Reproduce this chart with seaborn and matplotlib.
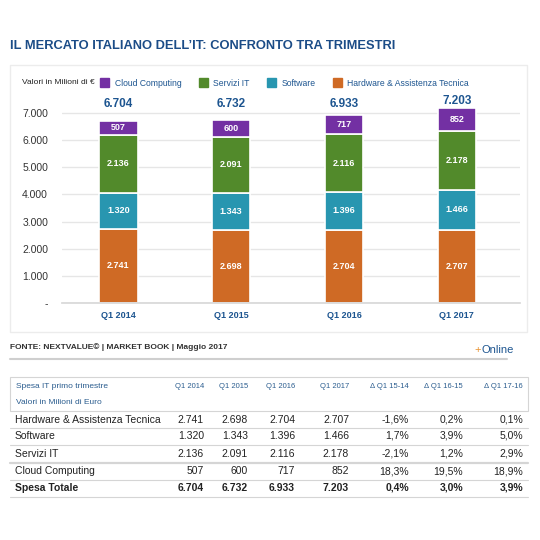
import matplotlib
matplotlib.use("Agg")
import matplotlib.pyplot as plt
import matplotlib.patches as mpatches
from matplotlib.lines import Line2D
import seaborn as sns
import pandas as pd
import numpy as np

# -----------------------------
# Data
# -----------------------------
quarters = ["Q1 2014", "Q1 2015", "Q1 2016", "Q1 2017"]
hardware = [2741, 2698, 2704, 2707]
software = [1320, 1343, 1396, 1466]
servizi = [2136, 2091, 2116, 2178]
cloud = [507, 600, 717, 852]
totals = [6704, 6732, 6933, 7203]

series_names = ["Hardware & Assistenza Tecnica", "Software", "Servizi IT", "Cloud Computing"]
series_colors = ["#cf6a25", "#2896b0", "#528a2b", "#7330a3"]

yticks = [0, 1000, 2000, 3000, 4000, 5000, 6000, 7000]
ytick_labels = ["-", "1.000", "2.000", "3.000", "4.000", "5.000", "6.000", "7.000"]

delta_cols = ["\u0394 Q1 15-14", "\u0394 Q1 16-15", "\u0394 Q1 17-16"]
delta_hardware = [-1.6, 0.2, 0.1]
delta_software = [1.7, 3.9, 5.0]
delta_servizi = [-2.1, 1.2, 2.9]
delta_cloud = [18.3, 19.5, 18.9]
delta_totale = [0.4, 3.0, 3.9]

BLUE = "#1d5590"
TITLE_BLUE = "#1b4c87"


def fmt_num(v):
    return f"{v:,}".replace(",", ".")


def fmt_pct(p):
    return f"{p:.1f}%".replace(".", ",")


df = pd.DataFrame({
    "quarter": quarters,
    "Hardware & Assistenza Tecnica": hardware,
    "Software": software,
    "Servizi IT": servizi,
    "Cloud Computing": cloud,
})

# -----------------------------
# Style
# -----------------------------
sns.set_theme(style="white")
plt.rcParams["font.family"] = ["Liberation Sans", "DejaVu Sans"]

W = 540
fig = plt.figure(figsize=(5.4, 5.4), dpi=100)


def fx(px):
    return px / W


def fy(py):
    return 1 - py / W


# title
fig.text(fx(10), fy(46), "IL MERCATO ITALIANO DELL\u2019IT: CONFRONTO TRA TRIMESTRI",
         fontsize=9.3, fontweight="bold", color=TITLE_BLUE, va="center")

# chart panel box
fig.add_artist(mpatches.Rectangle((fx(10), fy(332)), fx(517), (332 - 65) / W,
                                  transform=fig.transFigure, fill=False,
                                  edgecolor="#ececec", linewidth=1))

# -----------------------------
# Stacked bars
# -----------------------------
ylim_top = 7500
ax = fig.add_axes([fx(62), fy(303), fx(520 - 62), 7.5 * 27.14 / W])
bottom = np.zeros(len(quarters))
for name, color in zip(series_names, series_colors):
    sns.barplot(data=df, x="quarter", y=name, color=color, bottom=bottom,
                width=0.34, edgecolor="white", linewidth=1.2, ax=ax,
                saturation=1)
    vals = df[name].to_numpy()
    for i, v in enumerate(vals):
        ax.text(i, bottom[i] + v / 2, fmt_num(v), ha="center", va="center",
                color="white", fontsize=6.5, fontweight="bold")
    bottom = bottom + vals

for i, t in enumerate(totals):
    ax.text(i, max(7350, t + 230), fmt_num(t), ha="center", va="center",
            color=BLUE, fontsize=8.5, fontweight="bold")

ax.set_xlim(-0.5, 3.56)
ax.set_ylim(0, ylim_top)
ax.set_yticks(yticks)
ax.set_yticklabels(ytick_labels)
ax.set_xlabel("")
ax.set_ylabel("")
ax.yaxis.grid(True, color="#e6e6e6", linewidth=1)
ax.set_axisbelow(True)
for s in ["top", "right", "left"]:
    ax.spines[s].set_visible(False)
ax.spines["bottom"].set_color("#d8d8d8")
ax.tick_params(axis="y", length=0, labelsize=7.5, labelcolor="#333333", pad=10)
ax.tick_params(axis="x", length=0, labelsize=6.5, labelcolor=BLUE, pad=6)
for lab in ax.get_xticklabels():
    lab.set_fontweight("bold")

# legend
handles = [mpatches.Patch(color=c, label=n) for n, c in zip(series_names, series_colors)]
handles = handles[::-1]
leg = fig.legend(handles=handles, loc="center left", bbox_to_anchor=(fx(100), fy(83)),
                 ncol=4, frameon=False, fontsize=6.2, handlelength=1.1, handleheight=1.1,
                 handletextpad=0.6, columnspacing=2.0, borderaxespad=0, borderpad=0)
for t in leg.get_texts():
    t.set_color(BLUE)
fig.text(fx(22), fy(83), "Valori in Milioni di \u20ac", fontsize=6, color="#222222", va="center")

# -----------------------------
# Footer
# -----------------------------
fig.text(fx(10), fy(347), "FONTE: NEXTVALUE\u00a9 | MARKET BOOK | Maggio 2017",
         fontsize=6, fontweight="bold", color="#333333", va="center")
fig.text(fx(474), fy(350), "+", fontsize=8, color="#e8912f", va="center")
fig.text(fx(481), fy(350), "Online", fontsize=8, color=BLUE, va="center")
fig.add_artist(Line2D([fx(10), fx(507)], [fy(359), fy(359)], transform=fig.transFigure,
                      color="#cfcfcf", linewidth=1.5))

# -----------------------------
# Table
# -----------------------------
fig.add_artist(mpatches.Rectangle((fx(10), fy(411)), fx(518), 34 / W,
                                  transform=fig.transFigure, fill=False,
                                  edgecolor="#d5d5d5", linewidth=0.8))
head_col = "#2b5d8f"
fig.text(fx(16), fy(386), "Spesa IT primo trimestre", fontsize=6, color=head_col, va="center")
fig.text(fx(16), fy(403), "Valori in Milioni di Euro", fontsize=6, color=head_col, va="center")

col_right = [204, 248, 295, 349, 409, 463, 523]
for x, lab in zip(col_right, quarters + delta_cols):
    fig.text(fx(x), fy(386), lab, fontsize=5.5, color=head_col, va="center", ha="right")

rows = [
    ("Hardware & Assistenza Tecnica", hardware, delta_hardware, 420),
    ("Software", software, delta_software, 436),
    ("Servizi IT", servizi, delta_servizi, 454),
    ("Cloud Computing", cloud, delta_cloud, 471),
    ("Spesa Totale", totals, delta_totale, 488),
]
for label, vals, deltas, y in rows:
    bold = "bold" if label == "Spesa Totale" else "normal"
    fig.text(fx(15), fy(y), label, fontsize=7.5, color="#222222", va="center", fontweight=bold)
    cells = [fmt_num(v) for v in vals] + [fmt_pct(d) for d in deltas]
    for x, c in zip(col_right, cells):
        fig.text(fx(x), fy(y), c, fontsize=7.5, color="#222222", va="center", ha="right",
                 fontweight=bold)

for y, lw in [(428, 0.8), (445, 0.8), (463, 1.6), (480, 0.8), (497, 0.8)]:
    fig.add_artist(Line2D([fx(10), fx(528)], [fy(y), fy(y)], transform=fig.transFigure,
                          color="#d5d5d5", linewidth=lw))

fig.savefig("out.png", dpi=100, facecolor="white")
plt.close(fig)
